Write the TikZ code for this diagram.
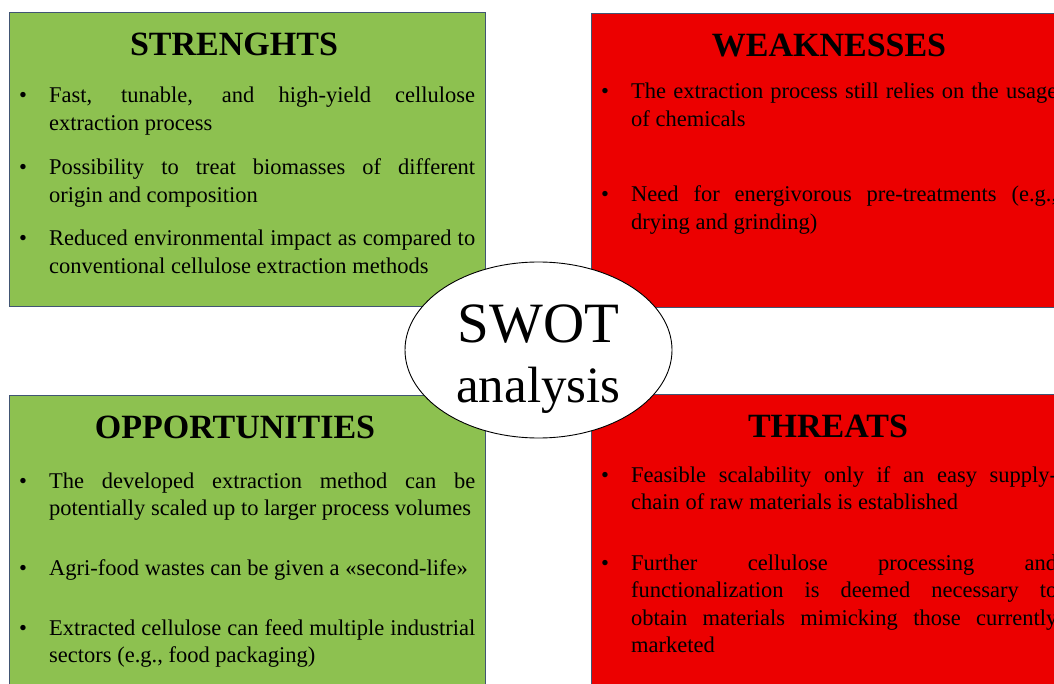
\documentclass[tikz,border=0pt]{standalone}
\usepackage{fontspec}
\setmainfont{Liberation Serif}
\usepackage{tikz}
\usetikzlibrary{positioning,shapes.geometric}
\usepackage{color}
\definecolor{swotgreen}{RGB}{141,193,80}
\definecolor{swotred}{RGB}{236,0,0}
\definecolor{swotedge}{RGB}{65,85,115}
\newcommand{\bul}{\llap{\makebox[30pt][l]{\textbullet}}}

\begin{document}
\begin{tikzpicture}[x=1pt,y=-1pt,
quad/.style={
rectangle,
draw=swotedge,
line width=0.8pt,
anchor=north west,
minimum width=476pt,
minimum height=294pt,
inner sep=0pt
},
head/.style={anchor=base,font=\fontsize{34}{40}\selectfont\bfseries},
point/.style={anchor=base west,text width=426pt,align=justify,inner sep=0pt,font=\fontsize{22.5}{27.5}\selectfont},
hub/.style={ellipse,draw,fill=white,line width=0.9pt,minimum width=267pt,minimum height=176pt,inner sep=0pt},
]
\useasboundingbox (0,0) rectangle (1054,684);
\clip (0,0) rectangle (1054,684);
% the four quadrants
\node (str) [quad,fill=swotgreen] at (9,12) {};
\node (weak) [quad,fill=swotred] at (591,13) {};
\node (opp) [quad,fill=swotgreen] at (9,395) {};
\node (thr) [quad,fill=swotred] at (591,394) {};
% headings
\node (strhead) [head] at (234,56) {STRENGHTS};
\node (weakhead) [head] at (829,57) {WEAKNESSES};
\node (opphead) [head] at (235,438) {OPPORTUNITIES};
\node (thrhead) [head] at (828,437) {THREATS};
% strengths
\node (str1) [point] at (49,103) {\bul Fast, tunable, and high-yield cellulose\linebreak extraction process};
\node (str2) [point] at (49,175) {\bul Possibility to treat biomasses of different\linebreak origin and composition};
\node (str3) [point] at (49,246) {\bul Reduced environmental impact as compared to\linebreak conventional cellulose extraction methods};
% weaknesses
\node (weak1) [point] at (631,99) {\bul The extraction process still relies on the usage\linebreak of chemicals};
\node (weak2) [point] at (631,202) {\bul Need for energivorous pre-treatments (e.g.,\linebreak drying and grinding)};
% opportunities
\node (opp1) [point] at (49,488) {\bul The developed extraction method can be\linebreak potentially scaled up to larger process volumes};
\node (opp2) [point] at (49,575) {\bul Agri-food wastes can be given a «second-life»};
\node (opp3) [point] at (49,635) {\bul Extracted cellulose can feed multiple industrial\linebreak sectors (e.g., food packaging)};
% threats
\node (thr1) [point] at (631,482) {\bul Feasible scalability only if an easy supply-\linebreak chain of raw materials is established};
\node (thr2) [point] at (631,570) {\bul Further cellulose processing and\linebreak functionalization is deemed necessary to\linebreak obtain materials mimicking those currently\linebreak marketed};
% centre
\node (swot) [hub] at (538.5,350) {};
\node (swottop) [anchor=base,inner sep=0pt,font=\fontsize{57}{60}\selectfont] at (538.5,342) {SWOT};
\node (swotbottom) [anchor=base,inner sep=0pt,font=\fontsize{51}{60}\selectfont] at (538.5,402) {analysis};
\end{tikzpicture}
\end{document}
